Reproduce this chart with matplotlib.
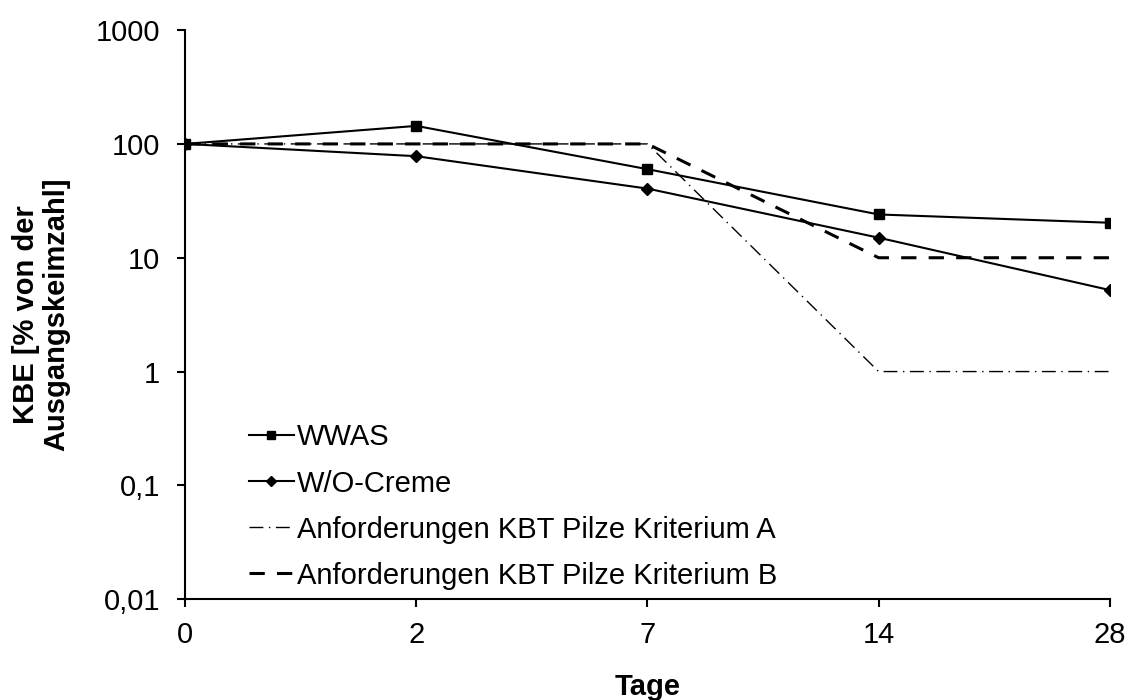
import matplotlib
matplotlib.use("Agg")
import matplotlib.pyplot as plt
from matplotlib.ticker import FixedLocator, FixedFormatter, NullLocator

plt.rcParams['font.family'] = ['Liberation Sans', 'DejaVu Sans']

# Tage (categorical x axis)
days = ["0", "2", "7", "14", "28"]
wwas = [100, 144, 60, 24, 20.3]
wo_creme = [100, 78, 40.5, 15, 5.2]
crit_a = [100, 100, 100, 1, 1]
crit_b = [100, 100, 100, 10, 10]

yticks = [0.01, 0.1, 1, 10, 100, 1000]
ytick_labels = ["0,01", "0,1", "1", "10", "100", "1000"]

fig = plt.figure(figsize=(11.29, 7.0), dpi=100)
ax = fig.add_axes([0.164, 0.144, 0.819, 0.813])

x = list(range(len(days)))
ax.plot(x, wwas, color='black', lw=1.5, marker='s', ms=7, label='WWAS')
ax.plot(x, wo_creme, color='black', lw=1.5, marker='D', ms=6, label='W/O-Creme')
ax.plot(x, crit_a, color='black', lw=1.0, dashes=(10, 4, 1, 4),
        label='Anforderungen KBT Pilze Kriterium A')
ax.plot(x, crit_b, color='black', lw=2.2, dashes=(5, 4),
        label='Anforderungen KBT Pilze Kriterium B')

ax.set_yscale('log')
ax.set_ylim(0.01, 1000)
ax.set_xlim(0, len(days) - 1)
ax.yaxis.set_major_locator(FixedLocator(yticks))
ax.yaxis.set_major_formatter(FixedFormatter(ytick_labels))
ax.yaxis.set_minor_locator(NullLocator())
ax.set_xticks(x)
ax.set_xticklabels(days)

for s in ['top', 'right']:
    ax.spines[s].set_visible(False)
for s in ['left', 'bottom']:
    ax.spines[s].set_linewidth(1.5)
ax.tick_params(axis='both', labelsize=21, width=1.5, length=6, direction='out')
ax.tick_params(axis='y', pad=12)
ax.tick_params(axis='x', pad=10)

ax.set_xlabel('Tage', fontsize=21, fontweight='bold', labelpad=17)
ax.set_ylabel('KBE [% von der\nAusgangskeimzahl]', fontsize=21, fontweight='bold',
              labelpad=18, linespacing=1.1)

leg = ax.legend(loc='lower left', bbox_to_anchor=(0.05, -0.014), frameon=False,
                fontsize=21, handlelength=1.55, handletextpad=0.1,
                labelspacing=0.62, borderaxespad=0.2, markerscale=0.8)

fig.savefig('out.png', dpi=100)
